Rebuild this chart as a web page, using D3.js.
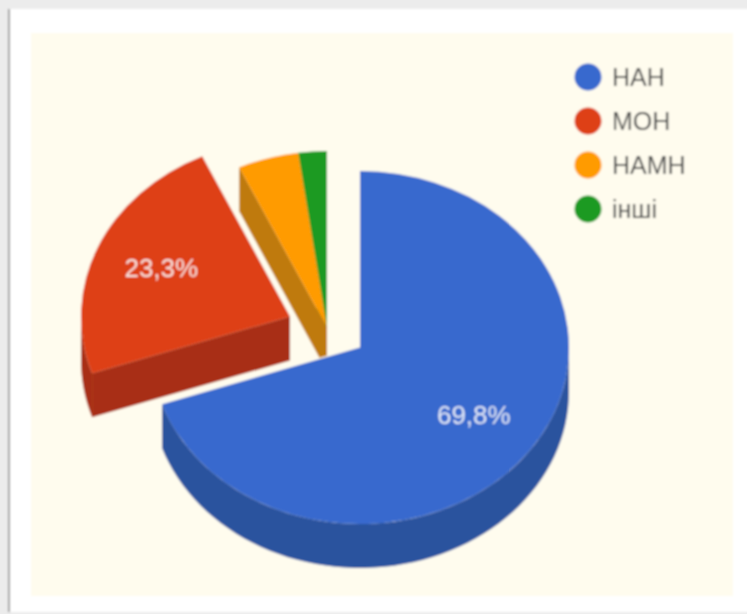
<!DOCTYPE html>
<html>
<head>
<meta charset="utf-8">
<script src="https://cdn.jsdelivr.net/npm/d3@7"></script>
<style>
  html, body { margin: 0; padding: 0; background: #ececec; }
  svg { display: block; }
</style>
</head>
<body>
<div id="app"></div>
<script>
const categories = ['НАН', 'МОН', 'НАМН', 'інші'];
const shares = [69.8, 23.3, 4.7, 2.2];
const topColors = ['#3869ce', '#de3f17', '#ff9b05', '#1a9a20'];
const wallColors = ['#2b529e', '#a82e12', '#bf7a09', '#12701a'];

const width = 747;
const height = 614;

// pie geometry
const rx = 209;
const ry = 176.5;
const cx = 360;
const cy = 347.5;
const depth = 44;
const cream = '#fffcee';
// how far each slice is pulled away from the middle
const shifts = [[0, 0], [-70, -31], [-33, -20], [-33, -20]];

const svg = d3.select('#app').append('svg').attr('width', width).attr('height', height);

// the reference is a soft upscaled screenshot
svg.append('defs').append('filter').attr('id', 'soft')
  .append('feGaussianBlur').attr('stdDeviation', 0.9);

const root = svg.append('g').attr('filter', 'url(#soft)');

// page frame
root.append('rect').attr('width', width).attr('height', height).attr('fill', '#ececec');
root.append('rect').attr('x', 8).attr('y', 9).attr('width', width).attr('height', 603).attr('fill', '#fff');
root.append('rect').attr('x', 8).attr('y', 9).attr('width', 2).attr('height', 603).attr('fill', '#9c9c9c');
root.append('rect').attr('x', 31).attr('y', 33).attr('width', 702).attr('height', 563).attr('fill', cream);

const slices = d3.pie().sort(null)(shares);
const arc = d3.arc().innerRadius(0).outerRadius(rx);

// flat point on the tilted ellipse
const project = (angle, k = 1) => [k * rx * Math.sin(angle), -k * ry * Math.cos(angle)];

// back to front: small slices, then red, then blue
const order = d3.range(slices.length).reverse();

const pieG = root.append('g');

order.forEach((i) => {
  const s = slices[i];
  const g = pieG.append('g')
    .attr('transform', `translate(${cx + shifts[i][0]},${cy + shifts[i][1]})`);

  // cut edge wall, seen only for slices starting on the left half
  if (s.startAngle > Math.PI) {
    const p = project(s.startAngle);
    g.append('path')
      .attr('d', d3.line()([[0, 0], p, [p[0], p[1] + depth], [0, depth]]))
      .attr('fill', wallColors[i]);
  }

  // outer rim wall, front half of the ellipse only
  const from = Math.max(s.startAngle, Math.PI / 2);
  const to = Math.min(s.endAngle, Math.PI * 1.5);
  if (from < to) {
    const steps = d3.range(0, 61).map((n) => from + (to - from) * n / 60);
    const upper = steps.map((a) => project(a));
    const lower = steps.map((a) => project(a)).reverse().map((p) => [p[0], p[1] + depth]);
    g.append('path')
      .attr('d', d3.line()(upper.concat(lower)) + 'Z')
      .attr('fill', wallColors[i]);
  }

  // pale seam along the cut where a big slice sits over the ones behind it
  if (i < 2) {
    g.append('path')
      .attr('d', d3.line()([[0, 0], project(s.endAngle)]))
      .attr('fill', 'none')
      .attr('stroke', cream)
      .attr('stroke-width', 2.5);
  }

  // top face
  g.append('path')
    .attr('d', arc(s))
    .attr('transform', `scale(1,${ry / rx})`)
    .attr('fill', topColors[i]);

  // percent label, big slices only
  if (shares[i] > 10) {
    const mid = (s.startAngle + s.endAngle) / 2;
    const p = project(mid, 0.67);
    g.append('text')
      .attr('x', p[0])
      .attr('y', p[1])
      .attr('dy', '0.28em')
      .attr('text-anchor', 'middle')
      .attr('font-family', 'Liberation Sans, Arial, sans-serif')
      .attr('font-size', 26)
      .attr('fill', '#fff')
      .attr('fill-opacity', 0.85)
      .text(d3.format('.1f')(shares[i]).replace('.', ',') + '%');
  }
});

// legend
const legendY = d3.scalePoint().domain(categories).range([77, 209]);

const legend = root.append('g').selectAll('g')
  .data(categories)
  .join('g')
  .attr('transform', (d) => `translate(588,${legendY(d)})`);

legend.append('circle')
  .attr('r', 13.5)
  .attr('fill', (d, i) => topColors[i]);

legend.append('text')
  .attr('x', 24)
  .attr('dy', '0.36em')
  .attr('font-family', 'Liberation Sans, Arial, sans-serif')
  .attr('font-size', 25)
  .attr('fill', '#4a4a4a')
  .text((d) => d);
</script>
</body>
</html>
